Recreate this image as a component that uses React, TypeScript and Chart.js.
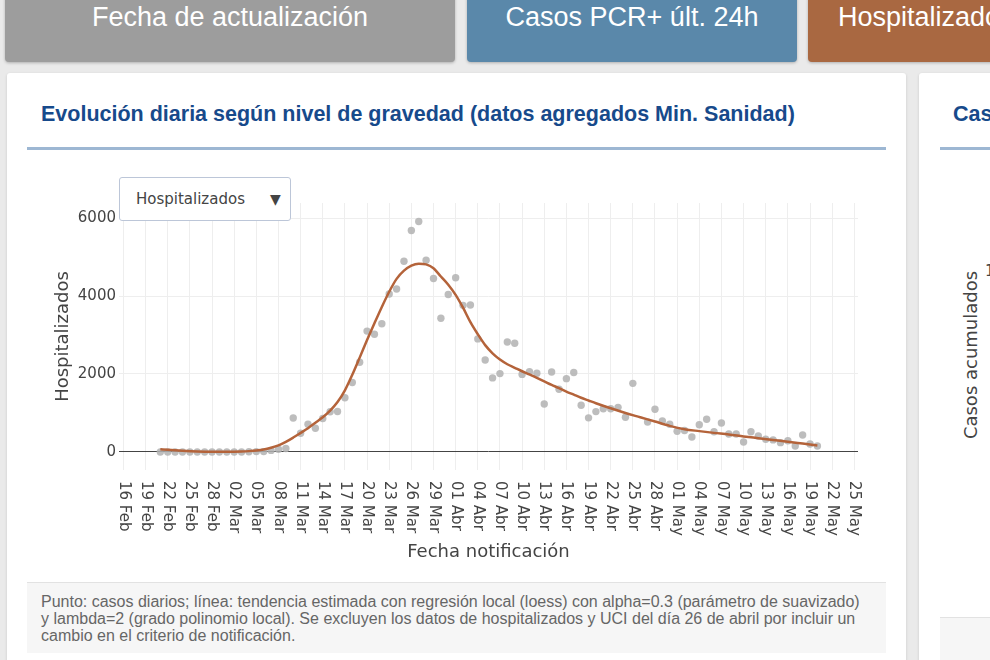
import React, { useEffect, useRef } from "react";
import { Chart, registerables } from "chart.js";

Chart.register(...registerables);

// Days are counted from 16 Feb 2020 (day 0).
const xTickDays = [0, 3, 6, 9, 12, 15, 18, 21, 24, 27, 30, 33, 36, 39, 42, 45, 48, 51, 54, 57, 60, 63, 66, 69, 72, 75, 78, 81, 84, 87, 90, 93, 96, 99];
const xTickLabels = [
  "16 Feb", "19 Feb", "22 Feb", "25 Feb", "28 Feb",
  "02 Mar", "05 Mar", "08 Mar", "11 Mar", "14 Mar", "17 Mar", "20 Mar", "23 Mar", "26 Mar", "29 Mar",
  "01 Abr", "04 Abr", "07 Abr", "10 Abr", "13 Abr", "16 Abr", "19 Abr", "22 Abr", "25 Abr", "28 Abr",
  "01 May", "04 May", "07 May", "10 May", "13 May", "16 May", "19 May", "22 May", "25 May",
];
const yTicks = [0, 2000, 4000, 6000];

// Daily hospitalized (points); 26 Apr (day 70) excluded.
const hospDays = [
  5, 6, 7, 8, 9, 10, 11, 12, 13, 14, 15, 16, 17, 18, 19, 20, 21, 22,
  23, 24, 25, 26, 27, 28, 29, 30, 31, 32, 33, 34, 35, 36, 37, 38, 39, 40,
  41, 42, 43, 44, 45, 46, 47, 48, 49, 50, 51, 52, 53, 54, 55, 56, 57, 58,
  59, 60, 61, 62, 63, 64, 65, 66, 67, 68, 69, 71, 72, 73, 74, 75, 76, 77,
  78, 79, 80, 81, 82, 83, 84, 85, 86, 87, 88, 89, 90, 91, 92, 93, 94,
];
const hospValues = [
  0, 0, 0, 0, 0, 0, 0, 0, 0, 0, 0, 0, 5, 10, 10, 40, 70, 90,
  870, 480, 710, 610, 860, 1030, 1040, 1390, 1780, 2300, 3100, 3020, 3290, 4050, 4180, 4890, 5680, 5910,
  4920, 4450, 3430, 4040, 4470, 3760, 3770, 2900, 2360, 1900, 2010, 2820, 2790, 1990, 2060, 2020, 1230, 2050,
  1610, 1880, 2040, 1200, 875, 1035, 1110, 1110, 1145, 890, 1760, 770, 1095, 795, 710, 530, 550, 385,
  700, 840, 520, 745, 460, 460, 255, 520, 410, 325, 310, 240, 290, 155, 435, 205, 155,
];

// Loess trend line.
const trendDays = [
  5, 6, 8, 10, 12, 14, 16, 17, 18, 19, 20, 21, 22, 23, 24, 25, 26, 27, 28, 29, 30,
  31, 32, 33, 34, 35, 36, 37, 38, 39, 40, 41, 42, 43, 44, 45, 46, 47, 48, 49, 50,
  51, 52, 53, 54, 55, 56, 57, 58, 59, 60, 61, 62, 63, 64, 66, 68, 70, 72, 74, 76,
  78, 80, 82, 84, 86, 88, 90, 92, 94,
];
const trendValues = [
  70, 55, 30, 12, 5, 5, 12, 22, 38, 65, 110, 170, 260, 370, 490, 610, 750, 890, 1060, 1280, 1580,
  1980, 2420, 2870, 3300, 3720, 4110, 4440, 4650, 4780, 4830, 4810, 4710, 4500, 4290, 4030, 3700, 3330, 3020, 2740, 2530,
  2370, 2250, 2160, 2070, 1990, 1900, 1810, 1720, 1640, 1550, 1470, 1390, 1320, 1250, 1120, 1000, 890, 780, 670, 585,
  535, 490, 450, 400, 355, 310, 265, 215, 165,
];

const AXIS_FONT = "'DejaVu Sans', Verdana, sans-serif";

const xLabelPlugin = {
  id: "xLabels",
  afterDraw(chart: any) {
    const { ctx, chartArea, scales } = chart;
    ctx.save();
    ctx.font = `15px ${AXIS_FONT}`;
    ctx.fillStyle = "#444";
    ctx.textAlign = "left";
    ctx.textBaseline = "middle";
    xTickDays.forEach((d, i) => {
      const x = scales.x.getPixelForValue(d);
      ctx.save();
      ctx.translate(x, chartArea.bottom + 11);
      ctx.rotate(Math.PI / 2);
      ctx.fillText(xTickLabels[i], 0, 0);
      ctx.restore();
    });
    ctx.restore();
  },
};

function HospChart() {
  const ref = useRef<HTMLCanvasElement>(null);
  useEffect(() => {
    if (!ref.current) return;
    const chart = new Chart(ref.current, {
      type: "scatter",
      data: {
        datasets: [
          {
            type: "line",
            data: trendDays.map((d, i) => ({ x: d, y: trendValues[i] })),
            borderColor: "#b4633a",
            borderWidth: 2.5,
            pointRadius: 0,
            cubicInterpolationMode: "monotone",
            fill: false,
          } as any,
          {
            type: "scatter",
            data: hospDays.map((d, i) => ({ x: d, y: hospValues[i] })),
            backgroundColor: "rgba(178,178,178,0.85)",
            borderWidth: 0,
            pointRadius: 3.7,
          },
        ],
      },
      options: {
        animation: false,
        responsive: false,
        devicePixelRatio: 1,
        layout: { padding: { top: 43, right: 29, left: 0, bottom: 0 } },
        plugins: { legend: { display: false }, tooltip: { enabled: false } },
        scales: {
          x: {
            type: "linear",
            min: -0.6,
            max: 99.5,
            afterBuildTicks: (s: any) => {
              s.ticks = xTickDays.map((v) => ({ value: v }));
            },
            afterFit: (s: any) => {
              s.height = 110;
            },
            ticks: { display: false },
            grid: { color: "#eeeeee", lineWidth: 1, drawTicks: false },
            border: { display: false },
            title: {
              display: true,
              text: "Fecha notificación",
              color: "#444",
              font: { family: AXIS_FONT, size: 18 },
              padding: { top: 0, bottom: 17 },
            },
          },
          y: {
            type: "linear",
            min: -462,
            max: 6385,
            afterBuildTicks: (s: any) => {
              s.ticks = yTicks.map((v) => ({ value: v }));
            },
            afterFit: (s: any) => {
              s.width = 92;
            },
            ticks: {
              color: "#444",
              font: { family: AXIS_FONT, size: 15 },
              padding: 3,
              callback: (v: any) => String(v),
            },
            grid: {
              color: (c: any) => (c.tick && c.tick.value === 0 ? "#444444" : "#eeeeee"),
              lineWidth: 1,
              drawTicks: false,
            },
            border: { display: false },
            title: {
              display: true,
              text: "Hospitalizados",
              color: "#444",
              font: { family: AXIS_FONT, size: 18 },
              padding: { top: 26, bottom: 0 },
            },
          },
        },
      },
      plugins: [xLabelPlugin],
    });
    return () => chart.destroy();
  }, []);
  return (
    <canvas
      ref={ref}
      width={860}
      height={420}
      style={{ position: "absolute", left: 27, top: 160, width: 860, height: 420 }}
    />
  );
}

const abs = (s: React.CSSProperties): React.CSSProperties => ({ position: "absolute", ...s });

export default function App() {
  const btnText: React.CSSProperties = {
    color: "#fff",
    fontSize: 27,
    fontFamily: "'Liberation Sans', Arial, sans-serif",
    whiteSpace: "nowrap",
  };
  const titleStyle: React.CSSProperties = {
    color: "#174a8b",
    fontWeight: "bold",
    fontSize: 21.5,
    fontFamily: "'Liberation Sans', Arial, sans-serif",
    whiteSpace: "nowrap",
  };
  return (
    <div
      style={abs({
        position: "fixed",
        left: 0,
        top: 0,
        width: 990,
        height: 660,
        overflow: "hidden",
        background: "#eaeaea",
        fontFamily: "'Liberation Sans', Arial, sans-serif",
      })}
    >
      {/* Top value boxes */}
      <div style={abs({ left: 5, top: -10, width: 450, height: 72, background: "#9d9d9d", borderRadius: 4, boxShadow: "0 1px 3px rgba(0,0,0,0.25)" })} />
      <div style={abs({ left: 5, top: 0, width: 450, height: 34, lineHeight: "34px", textAlign: "center", ...btnText })}>Fecha de actualización</div>
      <div style={abs({ left: 467, top: -10, width: 330, height: 72, background: "#5a88aa", borderRadius: 4, boxShadow: "0 1px 3px rgba(0,0,0,0.25)" })} />
      <div style={abs({ left: 467, top: 0, width: 330, height: 34, lineHeight: "34px", textAlign: "center", ...btnText })}>Casos PCR+ últ. 24h</div>
      <div style={abs({ left: 808, top: -10, width: 450, height: 72, background: "#a96841", borderRadius: 4, boxShadow: "0 1px 3px rgba(0,0,0,0.25)" })} />
      <div style={abs({ left: 838, top: 0, height: 34, lineHeight: "34px", ...btnText })}>Hospitalizados</div>

      {/* Main card */}
      <div style={abs({ left: 7, top: 73, width: 899, height: 620, background: "#fff", borderRadius: 3, boxShadow: "0 1px 3px rgba(0,0,0,0.15)" })} />
      <div style={abs({ left: 41, top: 102, ...titleStyle })}>
        Evolución diaria según nivel de gravedad (datos agregados Min. Sanidad)
      </div>
      <div style={abs({ left: 27, top: 147, width: 859, height: 3, background: "#9db7d3" })} />

      <HospChart />

      {/* Dropdown */}
      <div
        style={abs({
          left: 119,
          top: 177,
          width: 170,
          height: 42,
          background: "#fff",
          border: "1px solid #bcc6d8",
          borderRadius: 3,
        })}
      />
      <div style={abs({ left: 136, top: 189, fontFamily: AXIS_FONT, fontSize: 15, color: "#444", whiteSpace: "nowrap", lineHeight: "20px" })}>
        Hospitalizados
      </div>
      <div style={abs({ left: 270, top: 189, fontFamily: AXIS_FONT, fontSize: 14, color: "#444", lineHeight: "20px" })}>▼</div>

      {/* Footnote */}
      <div style={abs({ left: 27, top: 582, width: 859, height: 70, background: "#f6f6f6", borderTop: "1px solid #e2e2e2" })} />
      <div
        style={abs({
          left: 41,
          top: 593,
          fontSize: 16,
          lineHeight: "17px",
          color: "#666",
          whiteSpace: "nowrap",
        })}
      >
        Punto: casos diarios; línea: tendencia estimada con regresión local (loess) con alpha=0.3 (parámetro de suavizado)
        <br />y lambda=2 (grado polinomio local). Se excluyen los datos de hospitalizados y UCI del día 26 de abril por incluir un
        <br />cambio en el criterio de notificación.
      </div>

      {/* Right card (partially visible) */}
      <div style={abs({ left: 919, top: 73, width: 200, height: 620, background: "#fff", borderRadius: 3, boxShadow: "0 1px 3px rgba(0,0,0,0.15)" })} />
      <div style={abs({ left: 953, top: 102, ...titleStyle })}>Casos acumulados</div>
      <div style={abs({ left: 940, top: 147, width: 200, height: 3, background: "#9db7d3" })} />
      <div
        style={abs({
          left: 970,
          top: 355,
          transform: "translate(-50%, -50%) rotate(-90deg)",
          fontFamily: AXIS_FONT,
          fontSize: 18,
          color: "#444",
          whiteSpace: "nowrap",
        })}
      >
        Casos acumulados
      </div>
      <div style={abs({ left: 985, top: 262, fontFamily: AXIS_FONT, fontSize: 15, color: "#444", whiteSpace: "nowrap" })}>10</div>
      <div style={abs({ left: 940, top: 617, width: 200, height: 60, background: "#f6f6f6", borderTop: "1px solid #e2e2e2" })} />
    </div>
  );
}
